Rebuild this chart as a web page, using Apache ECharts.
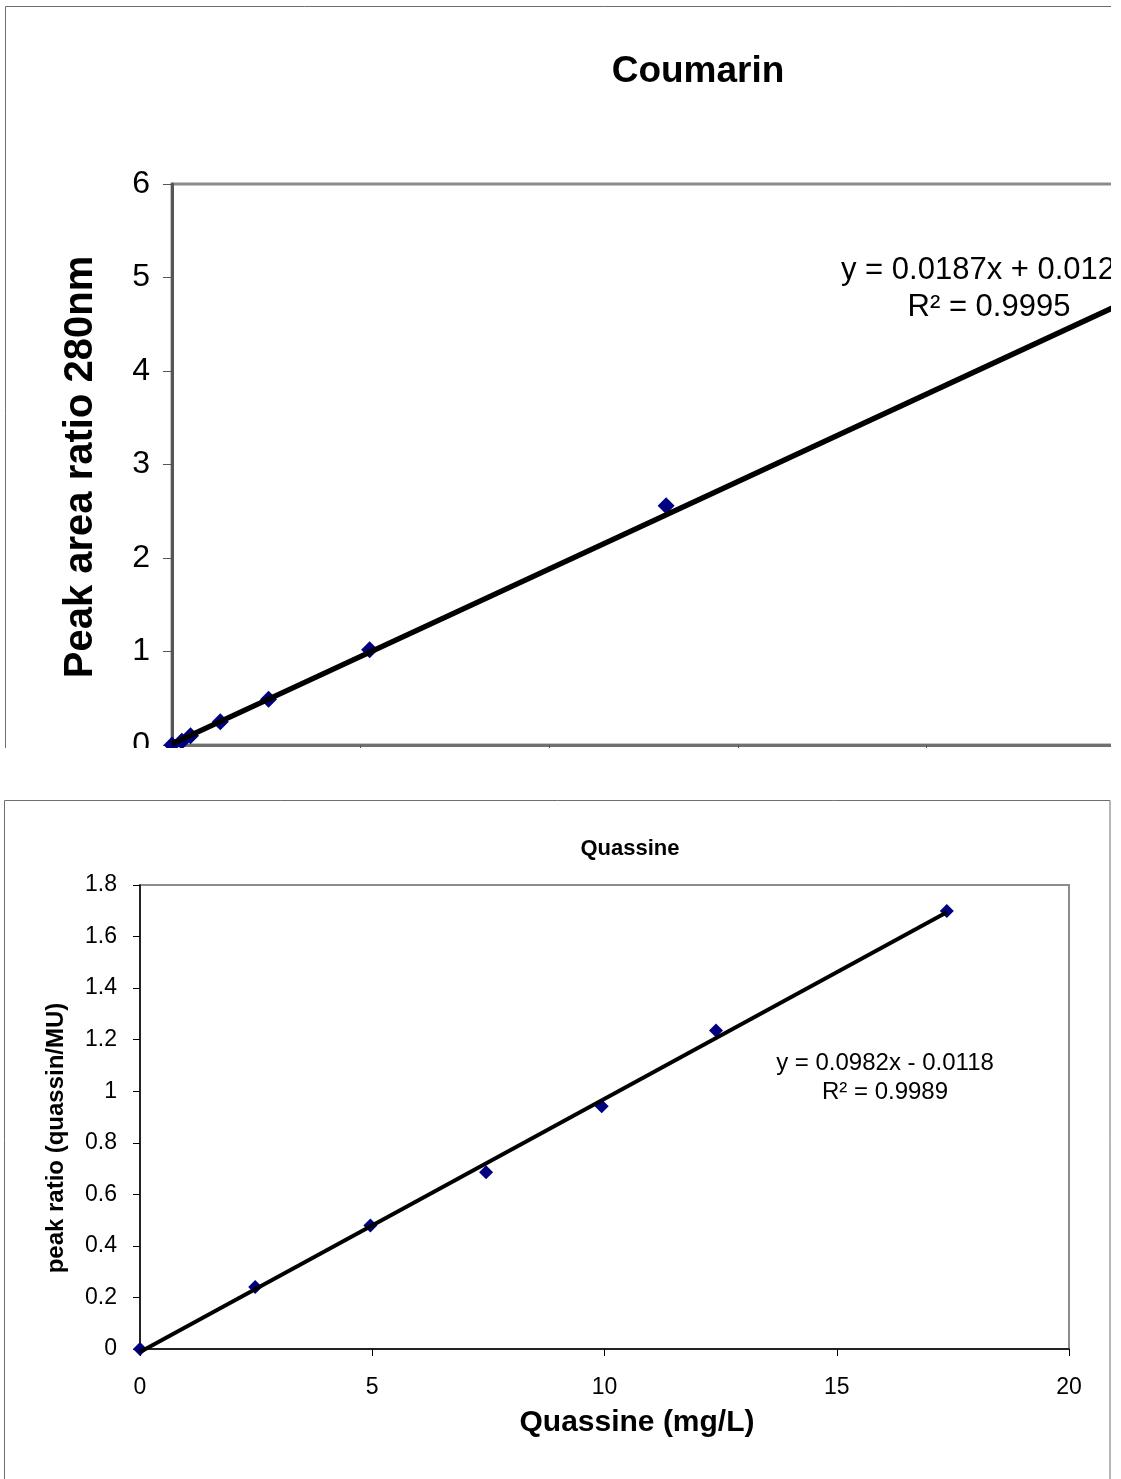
<!doctype html>
<html lang="en">
  <head>
    <meta charset="UTF-8" />
    <meta name="viewport" content="width=device-width, initial-scale=1.0" />
    <title>Coumarin and Quassine calibration curves</title>
    <script src="https://fastly.jsdelivr.net/npm/echarts@6/dist/echarts.min.js"></script>
    <style type="text/css">
      * {
        margin: 0;
        padding: 0;
      }
      html,
      body {
        width: 1121px;
        height: 1479px;
        background: #fff;
        overflow: hidden;
      }
      #quassine-chart {
        position: absolute;
        left: 0;
        top: 0;
        width: 1121px;
        height: 1479px;
      }
      /* the top chart is cut off on the right and at the bottom in the picture */
      #coumarin-clip {
        position: absolute;
        left: 0;
        top: 0;
        width: 1111px;
        height: 748px;
        overflow: hidden;
      }
      #coumarin-chart {
        width: 1200px;
        height: 820px;
      }
    </style>
  </head>
  <body>
    <div id="quassine-chart"></div>
    <div id="coumarin-clip"><div id="coumarin-chart"></div></div>
  </body>
  <script>
    const FONT = '"Liberation Sans", Arial, sans-serif';

    // Coumarin: peak area ratio at 280nm
    const coumarinX = [0, 2.6, 4.9, 12.8, 25.6, 52.4, 131];
    const coumarinY = [0, 0.04, 0.1, 0.25, 0.49, 1.02, 2.56];
    const coumarinFit = [0.0187, 0.012]; // slope, intercept
    const coumarinFitRange = [0, 250];
    const coumarinXRange = [0, 250, 50];
    const coumarinYRange = [0, 6, 1];
    const coumarinEquation = ['y = 0.0187x + 0.012', 'R² = 0.9995'];

    // Quassine
    const quassineX = [0, 2.48, 4.96, 7.45, 9.94, 12.4, 17.37];
    const quassineY = [0, 0.241, 0.479, 0.686, 0.942, 1.236, 1.699];
    const quassineFit = [0.0982, -0.0118];
    const quassineFitRange = [0, 17.37];
    const quassineXRange = [0, 20, 5];
    const quassineYRange = [0, 1.8, 0.2];
    const quassineEquation = ['y = 0.0982x - 0.0118', 'R² = 0.9989'];

    function pairs(xs, ys) {
      return xs.map(function (x, i) {
        return [x, ys[i]];
      });
    }
    function trend(fit, range) {
      return range.map(function (x) {
        return [x, fit[0] * x + fit[1]];
      });
    }
    function text(x, y, str, size, bold, extra) {
      return Object.assign(
        {
          type: 'text',
          x: x,
          y: y,
          silent: true,
          z: 10,
          style: {
            text: str,
            fontFamily: FONT,
            fontSize: size,
            fontWeight: bold ? 'bold' : 'normal',
            fill: '#000',
            align: 'center',
            verticalAlign: 'middle',
          },
        },
        extra || {},
      );
    }

    // ---- top chart ----
    const coumarinChart = echarts.init(document.getElementById('coumarin-chart'));
    coumarinChart.setOption({
      animation: false,
      textStyle: { fontFamily: FONT },
      graphic: [
        {
          type: 'rect',
          silent: true,
          shape: { x: 5.5, y: 6.5, width: 1300, height: 900 },
          style: { fill: 'none', stroke: '#6f6f6f', lineWidth: 1 },
        },
        text(698, 72, 'Coumarin', 37, true),
        text(81, 467, 'Peak area ratio 280nm', 40, true, { rotation: Math.PI / 2 }),
        text(841, 270, coumarinEquation[0], 31, false, {
          style: { text: coumarinEquation[0], fontFamily: FONT, fontSize: 31, fill: '#000', align: 'left', verticalAlign: 'middle' },
        }),
        text(989, 307, coumarinEquation[1], 31, false),
      ],
      grid: {
        left: 172,
        top: 184,
        width: 943,
        height: 561,
        show: true,
        borderColor: '#8c8c8c',
        borderWidth: 3,
        outerBoundsMode: 'none',
      },
      xAxis: {
        type: 'value',
        min: coumarinXRange[0],
        max: coumarinXRange[1],
        interval: coumarinXRange[2],
        axisLine: { show: true, onZero: false, lineStyle: { color: '#707070', width: 3 } },
        axisTick: { show: true, length: 4, lineStyle: { color: '#555', width: 1 } },
        axisLabel: { show: false },
        splitLine: { show: false },
      },
      yAxis: {
        type: 'value',
        min: coumarinYRange[0],
        max: coumarinYRange[1],
        interval: coumarinYRange[2],
        axisLine: { show: true, lineStyle: { color: '#555', width: 3 } },
        axisTick: { show: true, length: 9, lineStyle: { color: '#555', width: 1 } },
        axisLabel: { fontSize: 32, color: '#000', margin: 22 },
        splitLine: { show: false },
      },
      series: [
        {
          type: 'scatter',
          data: pairs(coumarinX, coumarinY),
          symbol: 'diamond',
          symbolSize: 17,
          itemStyle: { color: '#000080', opacity: 1 },
          z: 2,
        },
        {
          type: 'line',
          data: trend(coumarinFit, coumarinFitRange),
          symbol: 'none',
          lineStyle: { color: '#000', width: 5.5 },
          z: 3,
        },
      ],
    });

    // ---- bottom chart ----
    const quassineChart = echarts.init(document.getElementById('quassine-chart'));
    quassineChart.setOption({
      animation: false,
      textStyle: { fontFamily: FONT },
      graphic: [
        {
          type: 'rect',
          silent: true,
          shape: { x: 4.5, y: 800.5, width: 1105.5, height: 760 },
          style: { fill: 'none', stroke: '#6f6f6f', lineWidth: 1 },
        },
        text(630, 849, 'Quassine', 22, true),
        text(637, 1423, 'Quassine (mg/L)', 30, true),
        text(56, 1138, 'peak ratio (quassin/MU)', 24, true, { rotation: Math.PI / 2 }),
        text(885, 1063, quassineEquation[0], 24, false),
        text(885, 1092, quassineEquation[1], 24, false),
      ],
      grid: {
        left: 140,
        top: 885,
        width: 929,
        height: 464,
        show: true,
        borderColor: '#8c8c8c',
        borderWidth: 2,
        outerBoundsMode: 'none',
      },
      xAxis: {
        type: 'value',
        min: quassineXRange[0],
        max: quassineXRange[1],
        interval: quassineXRange[2],
        axisLine: { show: true, onZero: false, lineStyle: { color: '#000', width: 1.5 } },
        axisTick: { show: true, length: 7, lineStyle: { color: '#000', width: 1 } },
        axisLabel: { fontSize: 23, color: '#000', margin: 27 },
        splitLine: { show: false },
      },
      yAxis: {
        type: 'value',
        min: quassineYRange[0],
        max: quassineYRange[1],
        interval: quassineYRange[2],
        axisLine: { show: true, lineStyle: { color: '#000', width: 1.5 } },
        axisTick: { show: true, length: 7, lineStyle: { color: '#000', width: 1 } },
        axisLabel: { fontSize: 23, color: '#000', margin: 23 },
        splitLine: { show: false },
      },
      series: [
        {
          type: 'scatter',
          data: pairs(quassineX, quassineY),
          symbol: 'diamond',
          symbolSize: 14,
          itemStyle: { color: '#000080', opacity: 1 },
          z: 2,
        },
        {
          type: 'line',
          data: trend(quassineFit, quassineFitRange),
          symbol: 'none',
          lineStyle: { color: '#000', width: 4 },
          clip: false,
          z: 3,
        },
      ],
    });
  </script>
</html>
